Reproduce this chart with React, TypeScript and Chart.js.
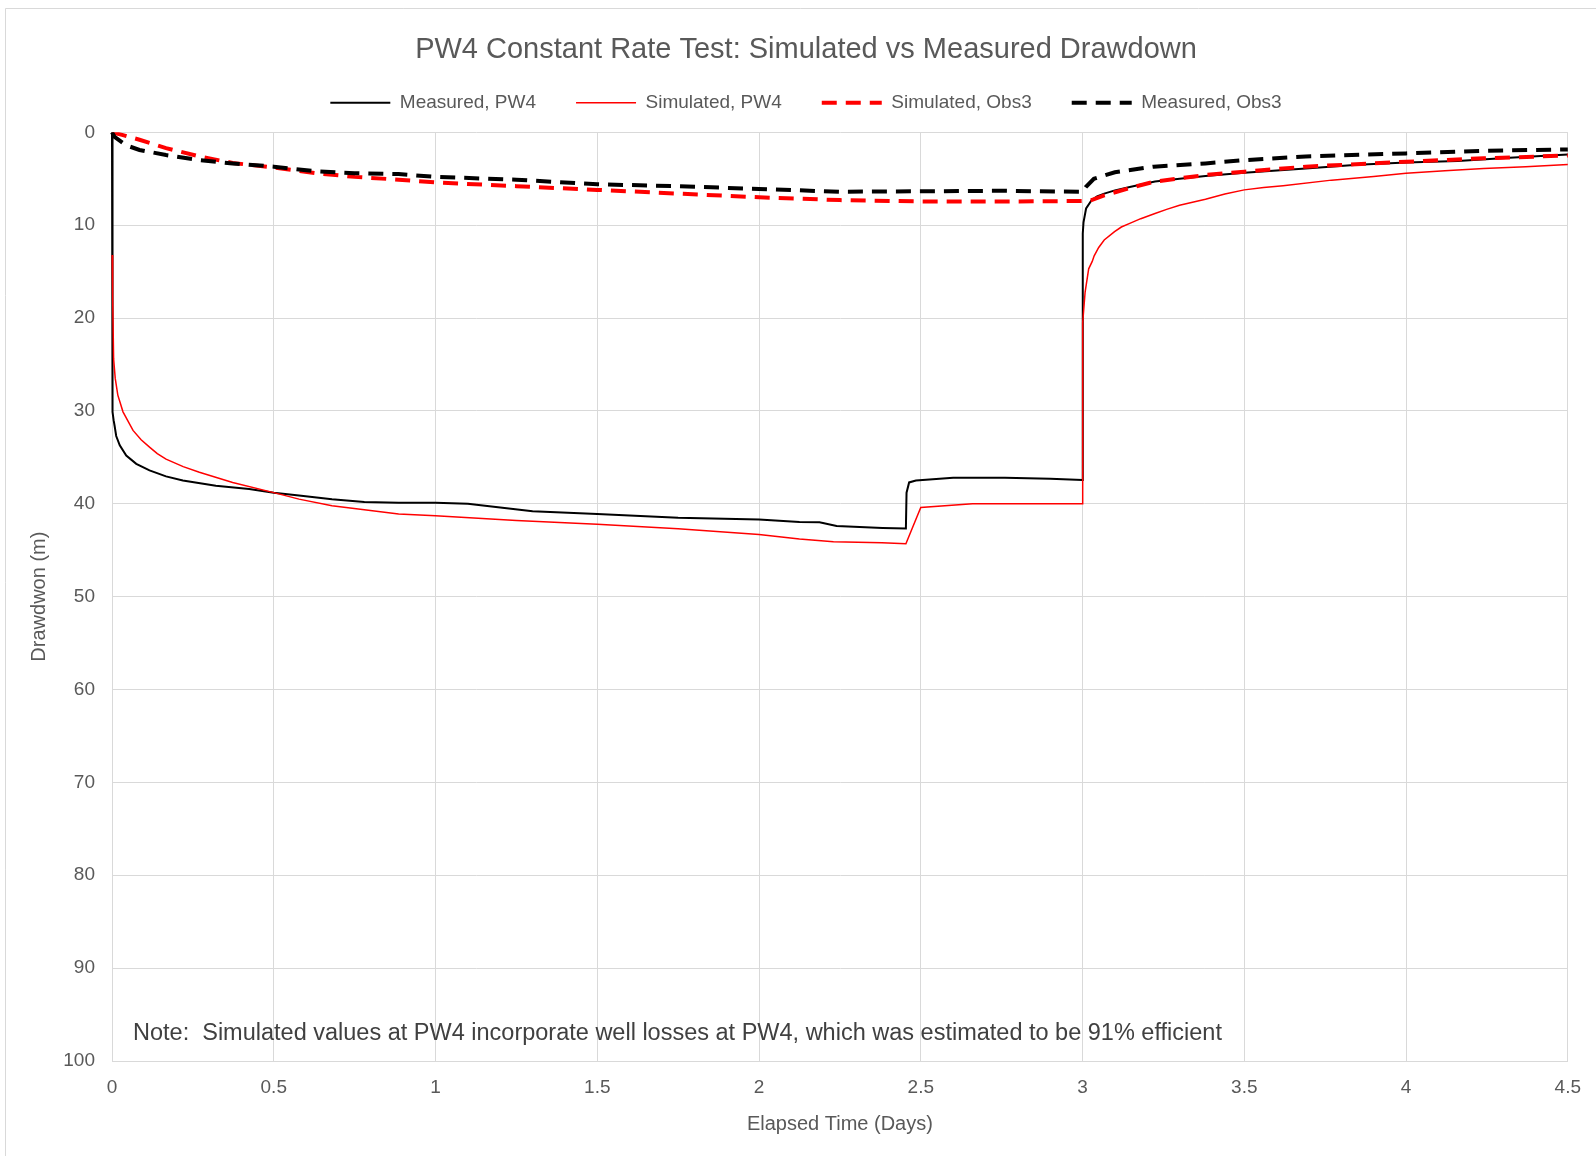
import React, { useEffect, useRef } from 'react';
import { Chart, registerables } from 'chart.js';

Chart.register(...registerables);

// ---------- data ----------
const measuredPW4Days = [0, 0.0005, 0.001, 0.002, 0.003, 0.005, 0.008, 0.013, 0.024, 0.044, 0.075, 0.116, 0.167, 0.219, 0.321, 0.424, 0.5, 0.578, 0.68, 0.78, 0.886, 1.0, 1.1, 1.2, 1.3, 1.5, 1.75, 2.0, 2.125, 2.187, 2.24, 2.382, 2.454, 2.456, 2.464, 2.485, 2.6, 2.76, 2.9, 3.0, 3.0005, 3.001, 3.003, 3.011, 3.028, 3.045, 3.067, 3.1, 3.146, 3.224, 3.3, 3.38, 3.5, 3.69, 3.85, 4.0, 4.16, 4.32, 4.5];
const measuredPW4Drawdown = [0, 8, 15, 25, 30.1, 31.0, 31.6, 32.7, 33.7, 34.8, 35.7, 36.4, 37.05, 37.5, 38.06, 38.4, 38.8, 39.1, 39.5, 39.8, 39.9, 39.9, 40.0, 40.4, 40.8, 41.1, 41.5, 41.7, 41.97, 42.0, 42.4, 42.6, 42.65, 38.8, 37.7, 37.5, 37.2, 37.2, 37.3, 37.45, 20.5, 10.9, 9.7, 8.2, 7.3, 6.9, 6.6, 6.25, 5.9, 5.3, 5.0, 4.7, 4.36, 3.9, 3.5, 3.25, 3.1, 2.75, 2.4];

const simulatedPW4Days = [0, 0.001, 0.003, 0.005, 0.01, 0.018, 0.034, 0.065, 0.09, 0.116, 0.14, 0.167, 0.22, 0.27, 0.373, 0.5, 0.578, 0.68, 0.886, 1.0, 1.25, 1.5, 1.75, 2.0, 2.125, 2.23, 2.38, 2.454, 2.5, 2.66, 3.0, 3.0005, 3.008, 3.019, 3.03, 3.036, 3.05, 3.067, 3.099, 3.12, 3.146, 3.18, 3.224, 3.26, 3.3, 3.38, 3.44, 3.5, 3.56, 3.62, 3.77, 3.9, 4.0, 4.12, 4.24, 4.37, 4.5];
const simulatedPW4Drawdown = [13.2, 15, 17.8, 24.4, 26.5, 28.3, 30.1, 32.1, 33.1, 33.9, 34.6, 35.2, 36.0, 36.6, 37.7, 38.8, 39.5, 40.2, 41.1, 41.3, 41.8, 42.2, 42.7, 43.3, 43.8, 44.1, 44.2, 44.3, 40.4, 40.0, 40.0, 20.5, 17.2, 14.7, 13.9, 13.3, 12.4, 11.6, 10.7, 10.2, 9.8, 9.3, 8.75, 8.3, 7.85, 7.2, 6.65, 6.2, 5.95, 5.75, 5.15, 4.75, 4.4, 4.15, 3.9, 3.7, 3.46];

const simulatedObs3Days = [0, 0.034, 0.085, 0.167, 0.27, 0.373, 0.5, 0.63, 0.75, 0.886, 1.0, 1.25, 1.5, 1.75, 2.0, 2.25, 2.5, 2.75, 3.0, 3.028, 3.067, 3.146, 3.224, 3.38, 3.5, 3.69, 4.0, 4.24, 4.5];
const simulatedObs3Drawdown = [0, 0.3, 0.8, 1.7, 2.6, 3.3, 3.8, 4.4, 4.8, 5.1, 5.4, 5.8, 6.2, 6.6, 7.0, 7.3, 7.45, 7.45, 7.4, 7.3, 6.8, 6.0, 5.3, 4.6, 4.25, 3.7, 3.17, 2.8, 2.5];

const measuredObs3Days = [0, 0.008, 0.044, 0.085, 0.167, 0.27, 0.373, 0.5, 0.63, 0.75, 0.886, 1.0, 1.25, 1.5, 1.75, 2.0, 2.25, 2.5, 2.75, 3.0, 3.01, 3.035, 3.1, 3.22, 3.38, 3.5, 3.69, 4.0, 4.24, 4.5];
const measuredObs3Drawdown = [0, 0.5, 1.4, 1.9, 2.45, 3.0, 3.35, 3.7, 4.2, 4.4, 4.5, 4.8, 5.1, 5.6, 5.8, 6.1, 6.4, 6.35, 6.3, 6.4, 5.9, 5.0, 4.3, 3.7, 3.35, 3.0, 2.6, 2.27, 2.0, 1.84];

const seriesLabels = ['Measured, PW4', 'Simulated, PW4', 'Simulated, Obs3', 'Measured, Obs3'];
const xTickValues = [0, 0.5, 1, 1.5, 2, 2.5, 3, 3.5, 4, 4.5];
const yTickValues = [0, 10, 20, 30, 40, 50, 60, 70, 80, 90, 100];

const titleText = 'PW4 Constant Rate Test: Simulated vs Measured Drawdown';
const xTitle = 'Elapsed Time (Days)';
const yTitle = 'Drawdwon (m)';
const noteText = 'Note:  Simulated values at PW4 incorporate well losses at PW4, which was estimated to be 91% efficient';

const FONT = "'Liberation Sans', Arial, sans-serif";
const TEXT = '#595959';
const GRID = '#d9d9d9';
const DASH = [15, 9];

const toPoints = (xs: number[], ys: number[]) => xs.map((x, i) => ({ x, y: ys[i] }));

const framePlugin = {
  id: 'frame',
  beforeDraw(chart: any) {
    const { ctx, width, height } = chart;
    ctx.save();
    ctx.fillStyle = '#ffffff';
    ctx.fillRect(0, 0, width, height);
    ctx.strokeStyle = GRID;
    ctx.lineWidth = 1;
    ctx.beginPath();
    ctx.moveTo(5.5, height);
    ctx.lineTo(5.5, 8.5);
    ctx.lineTo(width, 8.5);
    ctx.stroke();
    ctx.restore();
  },
};

const notePlugin = {
  id: 'note',
  afterDraw(chart: any) {
    const { ctx, chartArea } = chart;
    ctx.save();
    ctx.font = `23.5px ${FONT}`;
    ctx.fillStyle = '#404040';
    ctx.textAlign = 'left';
    ctx.textBaseline = 'middle';
    ctx.fillText(noteText, chartArea.left + 21, chartArea.bottom - 27);
    ctx.restore();
  },
};

export default function App() {
  const ref = useRef<HTMLCanvasElement>(null);

  useEffect(() => {
    const canvas = ref.current;
    if (!canvas) return;
    Chart.defaults.font.family = FONT;
    const baseGenerate = Chart.defaults.plugins.legend.labels.generateLabels;
    const chart = new Chart(canvas, {
      type: 'line',
      data: {
        datasets: [
          {
            label: seriesLabels[0],
            data: toPoints(measuredPW4Days, measuredPW4Drawdown),
            borderColor: '#000000',
            backgroundColor: '#000000',
            borderWidth: 2,
            pointRadius: 0,
            tension: 0,
            order: 4,
          },
          {
            label: seriesLabels[1],
            data: toPoints(simulatedPW4Days, simulatedPW4Drawdown),
            borderColor: '#ff0000',
            backgroundColor: '#ff0000',
            borderWidth: 1.5,
            pointRadius: 0,
            tension: 0,
            order: 3,
          },
          {
            label: seriesLabels[2],
            data: toPoints(simulatedObs3Days, simulatedObs3Drawdown),
            borderColor: '#ff0000',
            backgroundColor: '#ff0000',
            borderWidth: 4,
            borderDash: DASH,
            borderCapStyle: 'butt',
            pointRadius: 0,
            tension: 0,
            order: 2,
          },
          {
            label: seriesLabels[3],
            data: toPoints(measuredObs3Days, measuredObs3Drawdown),
            borderColor: '#000000',
            backgroundColor: '#000000',
            borderWidth: 4,
            borderDash: DASH,
            borderCapStyle: 'butt',
            pointRadius: 0,
            tension: 0,
            order: 1,
          },
        ],
      },
      options: {
        responsive: false,
        animation: false,
        devicePixelRatio: 1,
        layout: { padding: { left: 44, right: 28, top: 0, bottom: 0 } },
        plugins: {
          tooltip: { enabled: false },
          title: {
            display: true,
            text: titleText,
            color: TEXT,
            font: { size: 29, weight: 'normal', family: FONT, lineHeight: 1.2 },
            padding: { top: 33, bottom: -14.5 },
          },
          legend: {
            display: true,
            position: 'top',
            labels: {
              color: TEXT,
              font: { size: 19, family: FONT },
              usePointStyle: true,
              pointStyle: 'line',
              pointStyleWidth: 60,
              padding: 40,
              sort: (a: any, b: any) => a.datasetIndex - b.datasetIndex,
              generateLabels: (c: any) =>
                baseGenerate(c).map((item: any) => {
                  const ds = c.data.datasets[item.datasetIndex];
                  return { ...item, lineDash: ds.borderDash || [], lineWidth: ds.borderWidth, lineCap: 'butt' };
                }),
            },
          },
        },
        scales: {
          xTop: {
            type: 'linear',
            position: 'top',
            display: true,
            grid: { display: false },
            border: { display: false },
            ticks: { display: false },
            afterFit: (s: any) => { s.height = 10; },
          },
          x: {
            type: 'linear',
            position: 'bottom',
            min: 0,
            max: 4.5,
            afterBuildTicks: (s: any) => { s.ticks = xTickValues.map((v) => ({ value: v })); },
            afterFit: (s: any) => { s.height = 95; },
            grid: { color: GRID, lineWidth: 1, drawTicks: false },
            border: { color: GRID },
            ticks: {
              color: TEXT,
              font: { size: 19, family: FONT },
              padding: 15,
              autoSkip: false,
              maxRotation: 0,
              callback: (v: any) => String(v),
            },
            title: {
              display: true,
              text: xTitle,
              color: TEXT,
              font: { size: 20, family: FONT, lineHeight: 1.2 },
              padding: { top: 0, bottom: 20 },
            },
          },
          y: {
            type: 'linear',
            position: 'left',
            reverse: true,
            min: 0,
            max: 100,
            afterBuildTicks: (s: any) => { s.ticks = yTickValues.map((v) => ({ value: v })); },
            afterFit: (s: any) => { s.width = 68; },
            grid: { color: GRID, lineWidth: 1, drawTicks: false },
            border: { color: GRID },
            ticks: { color: TEXT, font: { size: 19, family: FONT }, padding: 17, autoSkip: false, callback: (v: any) => String(v) },
            title: {
              display: true,
              text: yTitle,
              color: TEXT,
              font: { size: 20, family: FONT, lineHeight: 1.2 },
              padding: { top: -17, bottom: 0 },
            },
          },
        },
      },
      plugins: [framePlugin, notePlugin],
    } as any);
    return () => chart.destroy();
  }, []);

  return (
    <div style={{ position: 'absolute', left: 0, top: 0, width: 1596, height: 1156 }}>
      <canvas ref={ref} width={1596} height={1156} style={{ display: 'block', width: 1596, height: 1156 }} />
    </div>
  );
}
